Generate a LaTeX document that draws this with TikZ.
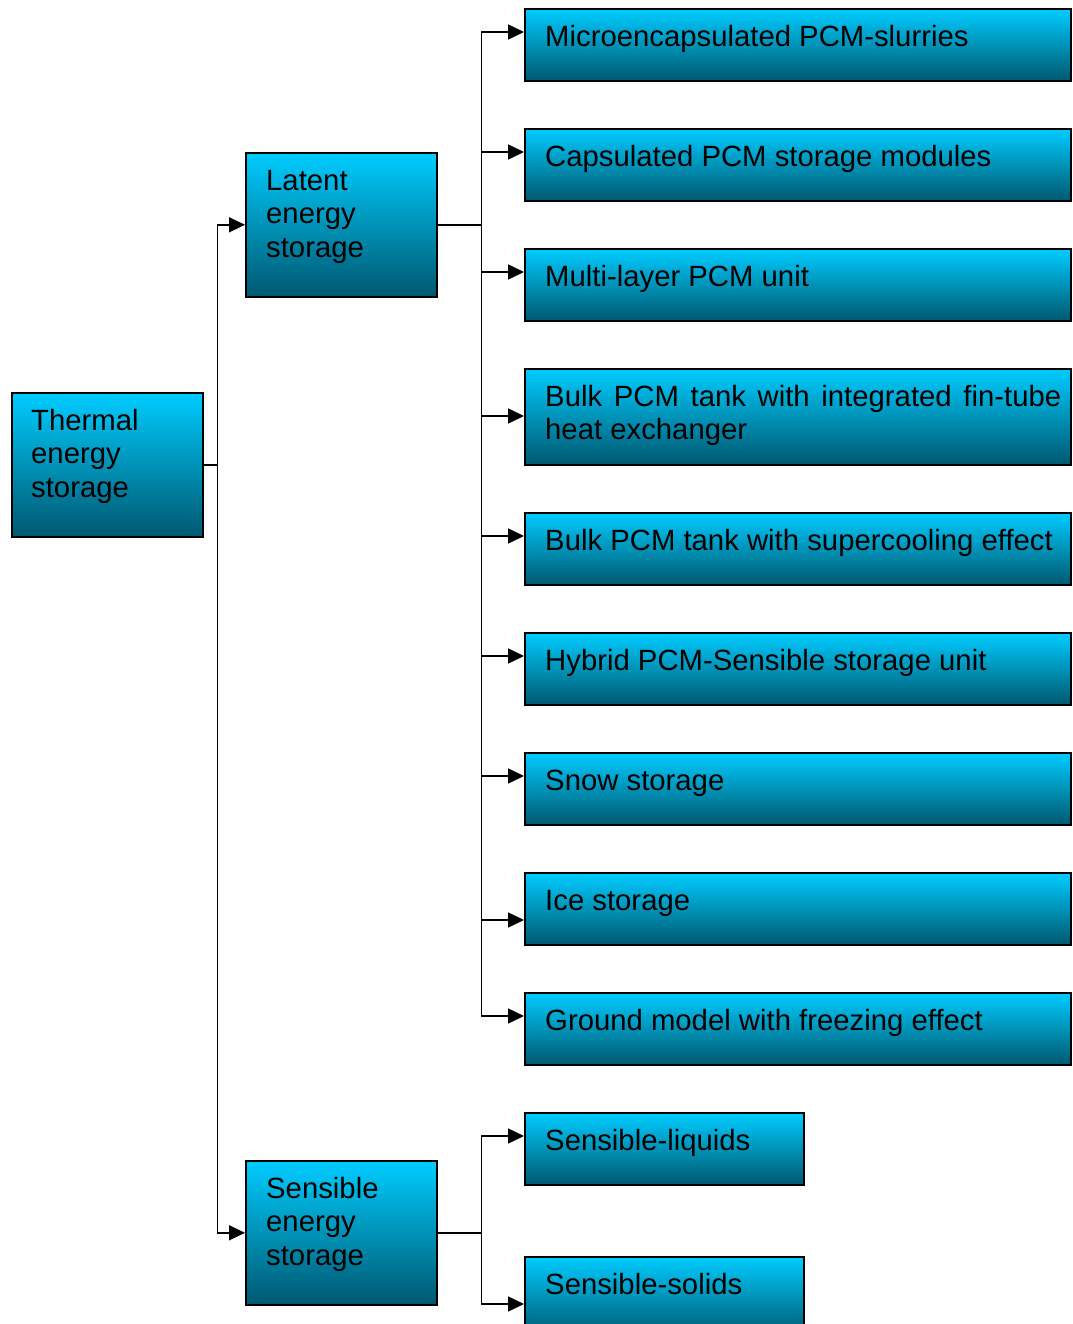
\documentclass[tikz,border=0pt]{standalone}
\usepackage{fontspec}
\setmainfont{Liberation Sans}
\usetikzlibrary{arrows.meta}
\definecolor{topc}{RGB}{0,204,255}
\definecolor{botc}{RGB}{0,88,112}
\begin{document}
\begin{tikzpicture}[x=1pt,y=-1pt,
 box/.style={draw=black, line width=1.6pt, top color=topc, bottom color=botc, rectangle, inner sep=0pt, anchor=north west},
 small/.style={box, minimum width=191pt, minimum height=144pt},
 wide/.style={box, minimum width=546pt, minimum height=72pt},
 txt/.style={anchor=north west, inner sep=0pt, align=left, font=\fontsize{29.3}{33.5}\selectfont},
 conn/.style={line width=1.6pt},
 arr/.style={conn, -{Triangle[length=16pt,width=15pt]}}]
\useasboundingbox (0,0) rectangle (1072,1324);
\clip (0,0) rectangle (1072,1324);
\fill[white] (0,0) rectangle (1072,1324);

% left column
\node[small] (thermal) at (11,392) {};
\node[txt] (thermalt) at ([shift={(20pt,-16pt)}]thermal.north west) {\rule{0pt}{22pt}Thermal\\energy\\storage};
\node[small] (latent) at (245,152) {};
\node[txt] (latentt) at ([shift={(21pt,-16pt)}]latent.north west) {\rule{0pt}{22pt}Latent\\energy\\storage};
\node[small] (sens) at (245,1160) {};
\node[txt] (senst) at ([shift={(21pt,-16pt)}]sens.north west) {\rule{0pt}{22pt}Sensible\\energy\\storage};

% right column
\node[wide] (micro) at (524,8) {};
\node[wide] (caps) at (524,128) {};
\node[wide] (multi) at (524,248) {};
\node[wide, minimum height=96pt] (bulk) at (524,368) {};
\node[wide] (super) at (524,512) {};
\node[wide] (hybrid) at (524,632) {};
\node[wide] (snow) at (524,752) {};
\node[wide] (ice) at (524,872) {};
\node[wide] (ground) at (524,992) {};
\node[box, minimum width=279pt, minimum height=72pt] (liq) at (524,1112) {};
\node[box, minimum width=279pt, minimum height=80pt] (sol) at (524,1256) {};

\node[txt] (microt) at ([shift={(21pt,-16pt)}]micro.north west) {\rule{0pt}{22pt}Microencapsulated PCM-slurries};
\node[txt] (capst) at ([shift={(21pt,-16pt)}]caps.north west) {\rule{0pt}{22pt}Capsulated PCM storage modules};
\node[txt] (multit) at ([shift={(21pt,-16pt)}]multi.north west) {\rule{0pt}{22pt}Multi-layer PCM unit};
\node[txt, text width=516pt, align=justify] (bulkt) at ([shift={(21pt,-16pt)}]bulk.north west) {\rule{0pt}{22pt}Bulk PCM tank with integrated fin-tube heat exchanger};
\node[txt] (supert) at ([shift={(21pt,-16pt)}]super.north west) {\rule{0pt}{22pt}Bulk PCM tank with supercooling effect};
\node[txt] (hybridt) at ([shift={(21pt,-16pt)}]hybrid.north west) {\rule{0pt}{22pt}Hybrid PCM-Sensible storage unit};
\node[txt] (snowt) at ([shift={(21pt,-16pt)}]snow.north west) {\rule{0pt}{22pt}Snow storage};
\node[txt] (icet) at ([shift={(21pt,-16pt)}]ice.north west) {\rule{0pt}{22pt}Ice storage};
\node[txt] (groundt) at ([shift={(21pt,-16pt)}]ground.north west) {\rule{0pt}{22pt}Ground model with freezing effect};
\node[txt] (liqt) at ([shift={(21pt,-16pt)}]liq.north west) {\rule{0pt}{22pt}Sensible-liquids};
\node[txt] (solt) at ([shift={(21pt,-16pt)}]sol.north west) {\rule{0pt}{22pt}Sensible-solids};

% connectors
\coordinate (jT) at ([xshift=14pt]thermal.east);
\coordinate (jL) at ([xshift=44pt]latent.east);
\coordinate (jS) at ([xshift=44pt]sens.east);
\draw[conn] (thermal.east) -- (jT);
\draw[arr] (jT) |- (latent.west);
\draw[arr] (jT) |- (sens.west);
\draw[conn] (latent.east) -- (jL);
\foreach \n/\d in {micro/24, caps/24, multi/24, bulk/48, super/24, hybrid/24, snow/24, ice/48, ground/24}
  \draw[arr] (jL) |- ([yshift=-\d pt]\n.north west);
\draw[conn] (sens.east) -- (jS);
\draw[arr] (jS) |- ([yshift=-24pt]liq.north west);
\draw[arr] (jS) |- ([yshift=-48pt]sol.north west);
\end{tikzpicture}
\end{document}
